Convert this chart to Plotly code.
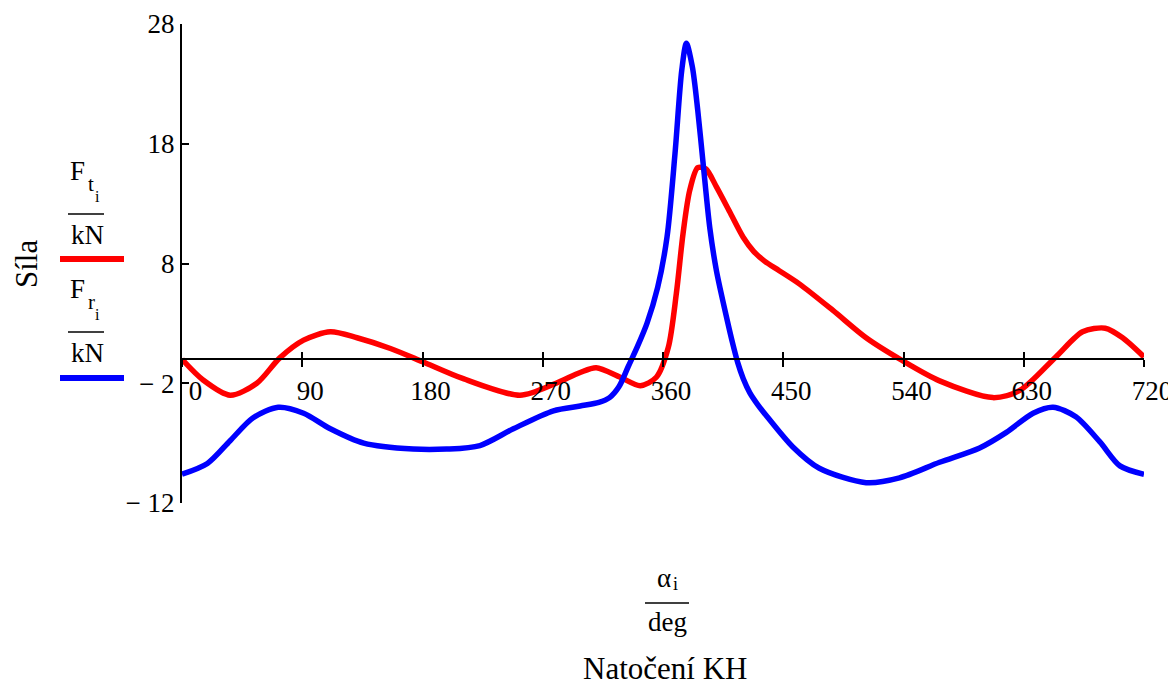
import plotly.graph_objects as go

# ---- data ----
angle_t = [0, 16, 36, 56, 73, 91, 111, 131, 156, 180, 210, 253, 280, 298, 310, 328, 343, 355,
           364, 370, 375, 380, 386, 392, 400, 410, 420, 428, 436, 447, 462, 487, 512, 539,
           567, 607, 627, 654, 674, 691, 704, 720]
force_t = [0.0, -1.75, -3.0, -2.0, 0.1, 1.6, 2.3, 1.8, 0.9, -0.2, -1.6, -3.0, -2.0, -1.1, -0.7, -1.5, -2.2, -1.5,
           1.0, 5.5, 10.5, 14.1, 16.0, 15.9, 14.4, 12.3, 10.2, 9.0, 8.2, 7.4, 6.3, 4.1, 1.8, -0.1,
           -1.8, -3.2, -2.6, 0.2, 2.3, 2.6, 1.8, 0.2]

angle_r = [0, 19, 36, 53, 72, 91, 111, 136, 173, 198, 223, 248, 278, 298, 312, 320, 327, 334, 341, 348, 356, 363,
           369, 374, 377.5, 382, 386, 390, 395, 400, 408, 412, 416, 420, 425, 431, 438, 457, 477, 512, 537,
           567, 597, 617, 637, 652, 669, 687, 702, 720]
force_r = [-9.6, -8.7, -6.8, -4.9, -4.0, -4.5, -5.8, -7.0, -7.5, -7.5, -7.2, -5.8, -4.3, -3.9, -3.6, -3.2, -2.3, -0.6, 1.1, 3.0, 6.0, 10.2,
           17.2, 24.1, 26.4, 24.4, 20.8, 16.4, 11.0, 7.4, 3.3, 1.4, -0.3, -1.6, -2.8, -3.8, -4.8, -7.3, -9.1, -10.3, -9.9,
           -8.6, -7.4, -6.1, -4.5, -4.0, -4.8, -6.9, -8.9, -9.6]

x_ticks = [0, 90, 180, 270, 360, 450, 540, 630, 720]
x_ticktext = ["\u2009\u20090", "90", "180", "270", "360", "450", "540", "630", "720"]
y_ticks = [-12, -2, 8, 18, 28]
y_ticktext = ["\u2212 12", "\u2212 2", "8", "18", "28"]

x_range = [0, 720]
y_range = [-12, 28]

# ---- layout geometry (reference pixel positions; page body adds an 8px offset) ----
OFF = 8
W, H = 1176 - OFF, 689 - OFF
L, R, T, B = 182, 1144, 24, 503
FONT = "Liberation Serif"


def px(xp):
    return (xp - L) / (R - L)


def py(yp):
    return (B - yp) / (B - T)


zero_pos = (0 - y_range[0]) / (y_range[1] - y_range[0])

fig = go.Figure()
fig.add_trace(go.Scatter(x=angle_t, y=force_t, mode="lines",
                         line=dict(color="#ff0000", width=5.5, shape="spline", smoothing=0.8),
                         showlegend=False, hoverinfo="skip"))
fig.add_trace(go.Scatter(x=angle_r, y=force_r, mode="lines",
                         line=dict(color="#0000ff", width=5.5, shape="spline", smoothing=0.8),
                         showlegend=False, hoverinfo="skip"))
# invisible trace to activate the overlay tick axis
fig.add_trace(go.Scatter(x=x_range, y=[0, 0], xaxis="x2", mode="lines",
                         line=dict(width=0), showlegend=False, hoverinfo="skip"))

fig.update_layout(
    width=W, height=H,
    margin=dict(l=L - OFF, r=1176 - R, t=T - OFF, b=689 - B, pad=0, autoexpand=False),
    paper_bgcolor="white", plot_bgcolor="white",
    font=dict(family=FONT, color="black", size=27),
    xaxis=dict(range=x_range, domain=[0, 1], anchor="free", position=zero_pos,
               automargin=False,
               showline=True, linecolor="black", linewidth=1.6,
               showgrid=False, zeroline=False,
               tickmode="array", tickvals=x_ticks, ticktext=x_ticktext,
               ticks="outside", ticklen=7, tickwidth=1.6, tickcolor="black",
               tickfont=dict(family=FONT, size=27, color="black"),
               ticklabelshift=8, ticklabelstandoff=0),
    xaxis2=dict(range=x_range, overlaying="x", anchor="free", position=zero_pos,
                automargin=False,
                showline=False, showgrid=False, zeroline=False,
                tickmode="array", tickvals=x_ticks, showticklabels=False,
                ticks="inside", ticklen=7, tickwidth=1.6, tickcolor="black"),
    yaxis=dict(range=y_range, domain=[0, 1], automargin=False,
               showline=True, linecolor="black", linewidth=2,
               showgrid=False, zeroline=False,
               tickmode="array", tickvals=y_ticks, ticktext=y_ticktext,
               ticks="inside", ticklen=7, tickwidth=1.6, tickcolor="black",
               tickfont=dict(family=FONT, size=27, color="black"),
               ticklabelstandoff=0),
)

ann = []
shapes = []


def text(s, x, y, size, xanchor="center", yanchor="middle", angle=0):
    ann.append(dict(text=s, x=px(x), y=py(y), xref="paper", yref="paper",
                    xanchor=xanchor, yanchor=yanchor, showarrow=False, textangle=angle,
                    font=dict(family=FONT, size=size, color="black")))


def hline(x0, x1, y, color="black", width=1.6):
    shapes.append(dict(type="line", xref="paper", yref="paper",
                       x0=px(x0), x1=px(x1), y0=py(y), y1=py(y),
                       line=dict(color=color, width=width)))


# y axis title
text("Síla", 26, 264, 31, angle=-90)

# legend entry 1: F_t_i / kN
text("F", 77, 171, 27)
text("t", 91, 184, 21)
text("i", 97.5, 196, 16)
hline(68, 104, 214)
text("kN", 87, 235, 27)
hline(60, 124, 259, color="#ff0000", width=6)

# legend entry 2: F_r_i / kN
text("F", 77, 289, 27)
text("r", 91, 302, 21)
text("i", 97.5, 314, 16)
hline(68, 104, 332)
text("kN", 87, 353, 27)
hline(60, 124, 378, color="#0000ff", width=6)

# x axis title
text("\u03b1", 664, 578, 27)
text("i", 675, 584, 18)
hline(645, 689, 603)
text("deg", 667, 622, 27)
text("Natočení KH", 665, 688, 31, yanchor="bottom")

fig.update_layout(annotations=ann, shapes=shapes)

fig.write_html("out.html")
